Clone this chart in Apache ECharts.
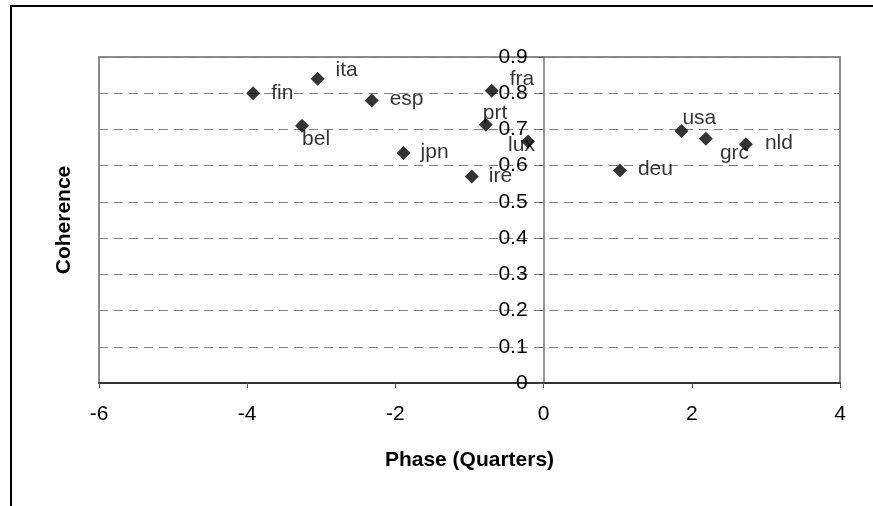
<!DOCTYPE html>
<html>
<head>
<meta charset="utf-8">
<script src="https://cdn.jsdelivr.net/npm/echarts@6/dist/echarts.min.js"></script>
<style>
  html, body { margin: 0; padding: 0; background: #fff; }
  #chart { width: 873px; height: 506px; }
</style>
</head>
<body>
<div id="chart"></div>
<script>
// Country codes and their phase / coherence values
const countries = ['fin', 'ita', 'esp', 'bel', 'jpn', 'ire', 'fra', 'prt', 'lux', 'deu', 'usa', 'grc', 'nld'];
const phase     = [-3.92, -3.05, -2.32, -3.26, -1.89, -0.97, -0.70, -0.78, -0.21, 1.03, 1.86, 2.19, 2.73];
const coherence = [0.80, 0.84, 0.78, 0.71, 0.635, 0.57, 0.807, 0.713, 0.667, 0.587, 0.696, 0.674, 0.659];

// Axis ticks
const xTicks = [-6, -4, -2, 0, 2, 4];
const yTicks = [0, 0.1, 0.2, 0.3, 0.4, 0.5, 0.6, 0.7, 0.8, 0.9];

// Where each country's name sits relative to its marker
const labelOffset = {
  fin: [18, 0], ita: [18, -9], esp: [18, -1], bel: [0, 13], jpn: [17, -1],
  ire: [17, 0], fra: [18, -11], prt: [-3, -12], lux: [-20, 4], deu: [18, -1],
  usa: [1, -13], grc: [14, 14], nld: [19, -1]
};

const FONT = '"Liberation Sans", Arial, sans-serif';

const points = countries.map((c, i) => ({
  name: c,
  value: [phase[i], coherence[i]],
  label: {
    show: true,
    formatter: c,
    position: 'inside',
    align: 'left',
    verticalAlign: 'middle',
    offset: labelOffset[c],
    fontFamily: FONT,
    fontSize: 21,
    color: '#000'
  }
}));

const chart = echarts.init(document.getElementById('chart'), null, { renderer: 'canvas' });

const baseOption = {
  animation: false,
  backgroundColor: '#fff',
  graphic: [{
    type: 'rect',
    shape: { x: 11, y: 6, width: 900, height: 600 },
    style: { fill: 'none', stroke: '#000', lineWidth: 2 },
    silent: true
  }],
  grid: {
    left: 99, right: 33, top: 57, bottom: 123,
    containLabel: false,
    outerBoundsMode: 'none',
    show: true,
    borderColor: '#8c8c8c',
    borderWidth: 2,
    backgroundColor: 'transparent'
  },
  xAxis: {
    type: 'value',
    min: xTicks[0],
    max: xTicks[xTicks.length - 1],
    interval: 2,
    name: 'Phase (Quarters)',
    nameLocation: 'middle',
    nameGap: 67,
    nameTextStyle: { fontFamily: FONT, fontSize: 21, fontWeight: 'bold', color: '#000' },
    axisLine: { onZero: false, lineStyle: { color: '#333', width: 2 } },
    axisTick: { show: true, inside: false, length: 5, lineStyle: { color: '#555', width: 1 } },
    axisLabel: { margin: 21, fontFamily: FONT, fontSize: 21, color: '#000' },
    splitLine: { show: false }
  },
  yAxis: {
    type: 'value',
    position: 'left',
    min: yTicks[0],
    max: yTicks[yTicks.length - 1],
    interval: 0.1,
    name: 'Coherence',
    nameLocation: 'middle',
    nameTextStyle: { fontFamily: FONT, fontSize: 21, fontWeight: 'bold', color: '#000' },
    axisLine: { onZero: false, lineStyle: { color: '#777', width: 1.5 } },
    axisTick: { show: true, inside: false, length: 5, lineStyle: { color: '#555', width: 1 } },
    axisLabel: {
      margin: 16, fontFamily: FONT, fontSize: 21, color: '#000',
      formatter: v => String(Math.round(v * 10) / 10)
    },
    splitLine: { show: true, lineStyle: { color: '#808080', type: [9, 6], width: 1 } }
  },
  series: [{
    type: 'scatter',
    symbol: 'diamond',
    symbolSize: 14,
    itemStyle: { color: '#000' },
    data: points
  }]
};

chart.setOption(baseOption);

// The vertical axis crosses at phase 0: shift it there from the grid's left edge,
// and keep its title near the left side of the chart.
const leftEdge = chart.convertToPixel({ xAxisIndex: 0 }, xTicks[0]);
const zeroX = chart.convertToPixel({ xAxisIndex: 0 }, 0);
chart.setOption({
  yAxis: { offset: leftEdge - zeroX, nameGap: zeroX - 75 }
});
</script>
</body>
</html>
